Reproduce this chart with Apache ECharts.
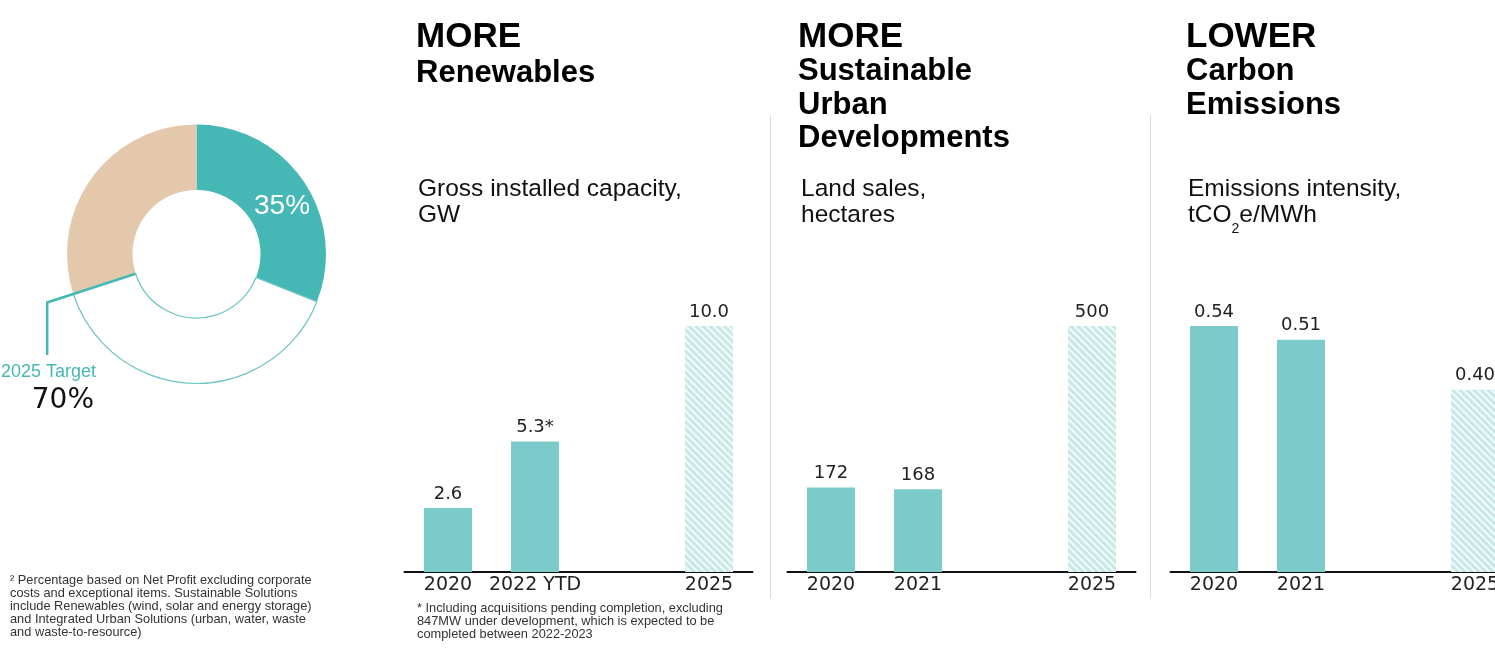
<!DOCTYPE html>
<html>
<head>
<meta charset="utf-8">
<script src="https://cdn.jsdelivr.net/npm/echarts@6/dist/echarts.min.js"></script>
<style>
  html, body { margin: 0; padding: 0; background: #ffffff; }
  #chart { width: 1495px; height: 648px; }
</style>
</head>
<body>
<div id="chart"></div>
<script>
// ---------------- data ----------------
var shareNames = ['Sustainable Solutions', 'Remaining', 'Target gap'];
var shareValues = [31, 39, 30];          // arc sizes as drawn
var shareLabel = '35%';
var targetLabel = '2025 Target';
var targetValue = '70%';

var renewCats = ['2020', '2022 YTD', '', '2025'];
var renewValues = [2.6, 5.3, null, 10.0];
var renewLabels = ['2.6', '5.3*', '', '10.0'];

var urbanCats = ['2020', '2021', '', '2025'];
var urbanValues = [172, 168, null, 500];
var urbanLabels = ['172', '168', '', '500'];

var carbonCats = ['2020', '2021', '', '2025'];
var carbonValues = [0.54, 0.51, null, 0.40];
var carbonLabels = ['0.54', '0.51', '', '0.40'];

var targetIndex = 3; // hatched (target) bar

// ---------------- styles ----------------
var TEAL = '#45b8b5';
var BEIGE = '#e4c8ab';
var BAR = '#7acbc9';
var HATCH = '#c6e8e7';
var SANS = '"Liberation Sans", Arial, sans-serif';
var NUM = '"DejaVu Sans", Verdana, sans-serif';

var pieCenter = [196.5, 254];
var pieRadius = [64, 129.5];

function barData(values) {
  return values.map(function (v, i) {
    if (v === null) return '-';
    if (i === targetIndex) {
      return {
        value: v,
        itemStyle: {
          color: HATCH,
          decal: {
            symbol: 'rect',
            symbolSize: 1,
            dashArrayX: [1, 0],
            dashArrayY: [1.6, 2.2],
            rotation: Math.PI / 4,
            color: 'rgba(255,255,255,0.8)'
          }
        }
      };
    }
    return v;
  });
}

function barSeries(idx, values, labels) {
  return {
    type: 'bar',
    xAxisIndex: idx,
    yAxisIndex: idx,
    barWidth: 48,
    data: barData(values),
    itemStyle: { color: BAR },
    label: {
      show: true,
      position: 'top',
      distance: 5,
      fontFamily: NUM,
      fontSize: 18,
      color: '#222',
      formatter: function (p) { return labels[p.dataIndex]; }
    },
    silent: true
  };
}

var grids = [404.5, 787.5, 1170.5].map(function (l) {
  return { left: l, width: 348, top: 326, height: 246, outerBoundsMode: 'none', containLabel: false };
});

function xAx(idx, cats) {
  return {
    type: 'category',
    gridIndex: idx,
    data: cats,
    axisLine: { show: true, lineStyle: { color: '#111', width: 2 } },
    axisTick: { show: false },
    axisLabel: { interval: 0, hideOverlap: false, margin: 4, fontFamily: NUM, fontSize: 19, color: '#222' }
  };
}
function yAx(idx, max) {
  return { type: 'value', gridIndex: idx, min: 0, max: max, show: false, splitLine: { show: false } };
}

// leader line geometry derived from the pie
var boundaryFrac = (shareValues[0] + shareValues[1]) / shareValues.reduce(function (a, b) { return a + b; }, 0);
var ang = boundaryFrac * 2 * Math.PI;
var dir = [Math.sin(ang), -Math.cos(ang)];
var p0 = [pieCenter[0] + pieRadius[0] * dir[0], pieCenter[1] + pieRadius[0] * dir[1]];
var p1 = [pieCenter[0] + 157 * dir[0], pieCenter[1] + 157 * dir[1]];
var p2 = [p1[0], 355];

function titleBox(text, left, top, size, lh, bold, color, rich) {
  var t = {
    text: text, left: left, top: top, padding: 0,
    textStyle: {
      fontFamily: SANS, fontSize: size, lineHeight: lh,
      fontWeight: bold ? 'bold' : 'normal', color: color || '#000'
    }
  };
  if (rich) t.textStyle.rich = rich;
  return t;
}

var subRich = {
  n: { fontFamily: SANS, fontSize: 24.5, lineHeight: 26, color: '#111' },
  s: { fontFamily: SANS, fontSize: 14, lineHeight: 26, color: '#111', padding: [28, 0, 0, 0] }
};

var option = {
  animation: false,
  backgroundColor: '#ffffff',
  title: [
    titleBox('MORE', 416, 19.5, 35, 36, true),
    titleBox('Renewables', 416, 57, 31, 33, true),
    titleBox('MORE', 798, 19.5, 35, 36, true),
    titleBox('Sustainable\nUrban\nDevelopments', 798, 55, 31, 33.5, true),
    titleBox('LOWER', 1186, 19.5, 35, 36, true),
    titleBox('Carbon\nEmissions', 1186, 55, 31, 33.5, true),

    titleBox('Gross installed capacity,\nGW', 418, 176, 24.5, 26, false, '#111'),
    titleBox('Land sales,\nhectares', 801, 176, 24.5, 26, false, '#111'),
    titleBox('Emissions intensity,', 1188, 176, 24.5, 26, false, '#111'),
    titleBox('{n|tCO}{s|2}{n|e/MWh}', 1188, 202, 24.5, 26, false, '#111', subRich),

    titleBox('\u00b2 Percentage based on Net Profit excluding corporate\ncosts and exceptional items. Sustainable Solutions\ninclude Renewables (wind, solar and energy storage)\nand Integrated Urban Solutions (urban, water, waste\nand waste-to-resource)', 10, 573.5, 12.8, 13, false, '#333'),
    titleBox('* Including acquisitions pending completion, excluding\n847MW under development, which is expected to be\ncompleted between 2022-2023', 417, 601.5, 12.8, 13, false, '#333')
  ],
  grid: grids,
  xAxis: [xAx(0, renewCats), xAx(1, urbanCats), xAx(2, carbonCats)],
  yAxis: [yAx(0, 10), yAx(1, 500), yAx(2, 0.54)],
  series: [
    barSeries(0, renewValues, renewLabels),
    barSeries(1, urbanValues, urbanLabels),
    barSeries(2, carbonValues, carbonLabels),
    {
      type: 'pie',
      center: pieCenter,
      radius: pieRadius,
      startAngle: 90,
      clockwise: true,
      silent: true,
      labelLine: { show: false },
      data: [
        { name: shareNames[0], value: shareValues[0], itemStyle: { color: TEAL },
          label: { show: true, position: 'inside', formatter: shareLabel, color: '#fff',
                   fontFamily: SANS, fontSize: 28, offset: [3, 8] } },
        { name: shareNames[1], value: shareValues[1],
          itemStyle: { color: '#ffffff', borderColor: '#6cc4c1', borderWidth: 1.2 },
          label: { show: false } },
        { name: shareNames[2], value: shareValues[2], itemStyle: { color: BEIGE },
          label: { show: false } }
      ]
    }
  ],
  graphic: [
    { type: 'line', silent: true, shape: { x1: 770.5, y1: 115, x2: 770.5, y2: 598 }, style: { stroke: '#dcdcdc', lineWidth: 1 } },
    { type: 'line', silent: true, shape: { x1: 1150.5, y1: 115, x2: 1150.5, y2: 598 }, style: { stroke: '#dcdcdc', lineWidth: 1 } },
    { type: 'polyline', silent: true, z: 10, shape: { points: [p0, p1, p2] },
      style: { stroke: TEAL, lineWidth: 2.5, fill: null } },
    { type: 'text', silent: true, x: 96, y: 372,
      style: { text: targetLabel, align: 'right', verticalAlign: 'middle', fontFamily: SANS, fontSize: 18, fill: TEAL } },
    { type: 'text', silent: true, x: 94, y: 401,
      style: { text: targetValue, align: 'right', verticalAlign: 'middle', fontFamily: NUM, fontSize: 28, fill: '#111' } }
  ]
};

var chart = echarts.init(document.getElementById('chart'), null, { renderer: 'canvas' });
chart.setOption(option);
</script>
</body>
</html>
